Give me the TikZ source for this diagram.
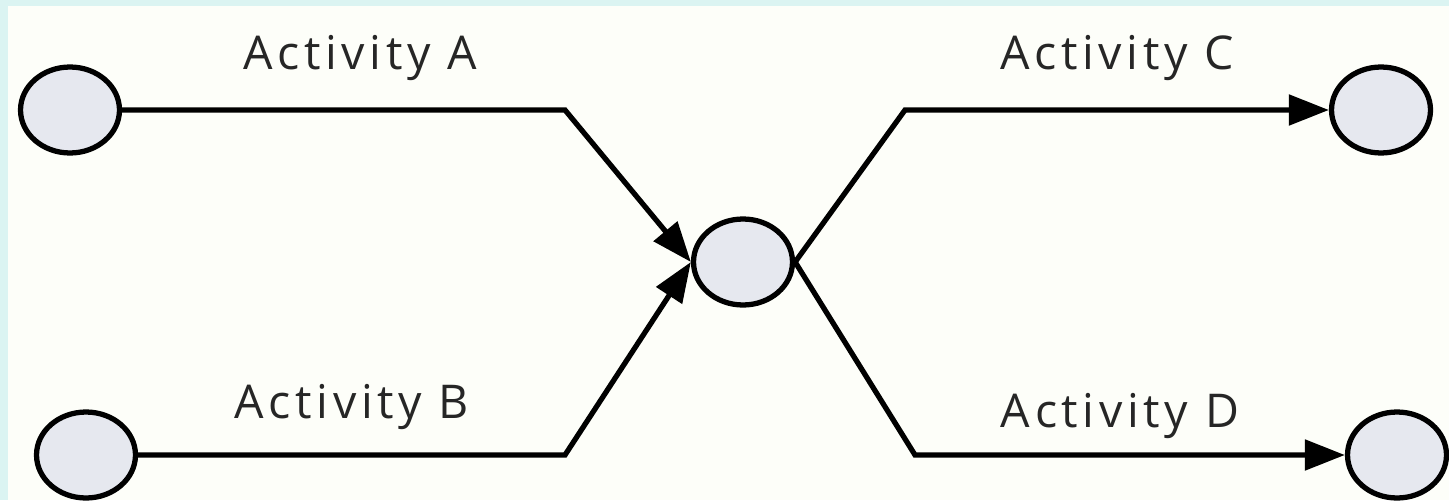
\documentclass[tikz,border=0pt]{standalone}
\usepackage{fontspec}
\setmainfont{Open Sans}
\newfontfamily\actfont[LetterSpace=10]{Open Sans}
\usepackage{tikz}
\usetikzlibrary{arrows.meta, positioning, shapes.geometric}
\definecolor{framecyan}{HTML}{DBF4F2}
\definecolor{paperwhite}{HTML}{FDFEF9}
\definecolor{eventfill}{HTML}{E6E8EF}

\begin{document}
\begin{tikzpicture}[
        x=0.02cm, y=-0.02cm,
        event/.style={ellipse, draw=black, line width=3pt, fill=eventfill,
                      minimum width=1.98cm, minimum height=1.72cm, inner sep=0pt},
        act/.style={draw=black, line width=3pt},
        actarr/.style={act, -{Triangle[length=0.8cm, width=0.6cm]}},
        actlbl/.style={anchor=base, font=\actfont\fontsize{26.5}{30}\selectfont, text=black!85}
    ]
        % frame
        \fill[framecyan] (0,0) rectangle (1449,500);
        \fill[paperwhite] (8,6) rectangle (1449,500);
        \useasboundingbox (0,0) rectangle (1449,500);

        % events
        \node[event] (ea) at (70,110)  {};
        \node[event] (eb) at (86,455)  {};
        \node[event] (em) at (743,262) {};
        \node[event] (ec) at (1381,110) {};
        \node[event] (ed) at (1397,455) {};

        % bends
        \coordinate (ka) at (565,110);
        \coordinate (kb) at (565,455);
        \coordinate (kc) at (905,110);
        \coordinate (kd) at (915,455);

        % activities
        \draw[actarr] (ea) -- (ka) -- (em.west);
        \draw[actarr] (eb) -- (kb) -- (em.west);
        \draw[actarr] (em.east) -- (kc) -- (ec);
        \draw[actarr] (em.east) -- (kd) -- (ed);

        \node[actlbl] (la) at (360,70)  {Activity A};
        \node[actlbl] (lb) at (352,418) {Activity B};
        \node[actlbl] (lc) at (1117,70) {Activity C};
        \node[actlbl] (ld) at (1120,427) {Activity D};
    \end{tikzpicture}
\end{document}
